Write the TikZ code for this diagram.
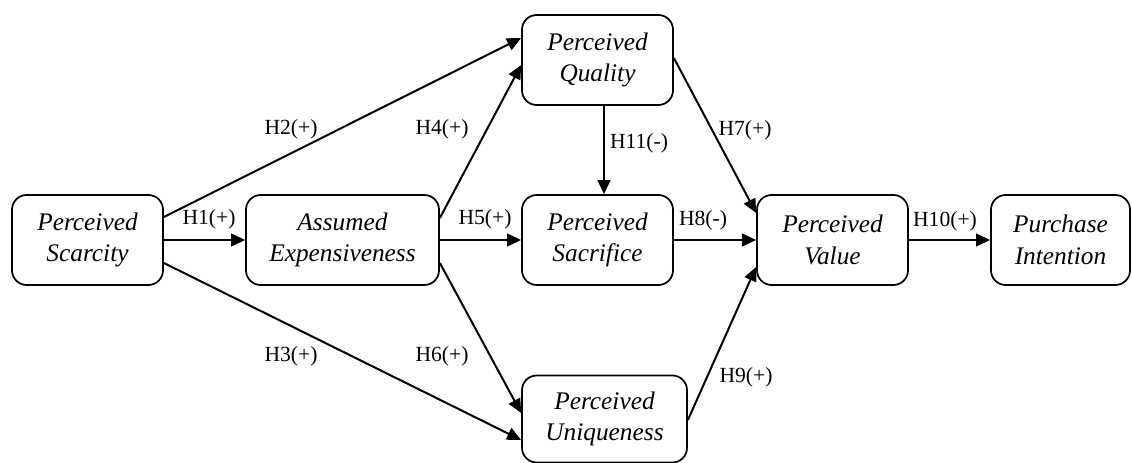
\documentclass[tikz,border=0pt]{standalone}
\usepackage{fontspec}
\setmainfont{Liberation Serif}
\usetikzlibrary{calc,arrows.meta}
\tikzset{
  box/.style={draw, line width=1.3pt, rounded corners=11pt, align=center,
    minimum height=67.5pt, inner sep=0pt,
    font=\fontsize{19}{23.5}\selectfont\itshape},
  conn/.style={line width=1.5pt, -{Triangle[length=10.5pt,width=9.5pt]}},
  lab/.style={font=\fontsize{16.2}{18}\selectfont, inner sep=0pt}
}
\begin{document}
\begin{tikzpicture}[x=0.75pt,y=-0.75pt]
\useasboundingbox (0,0) rectangle (1132,463);
\node[box, minimum width=113.25pt] (sc) at (87.5,240) {Perceived\\Scarcity};
\node[box, minimum width=144.75pt] (ae) at (342.5,240) {Assumed\\Expensiveness};
\node[box, minimum width=113.25pt] (qu) at (597.5,60) {Perceived\\Quality};
\node[box, minimum width=113.25pt] (sa) at (597.5,240) {Perceived\\Sacrifice};
\node[box, minimum width=113.25pt] (va) at (832.5,240) {Perceived\\Value};
\node[box, minimum width=104.25pt] (pi) at (1060.5,240) {Purchase\\Intention};
\node[box, minimum width=123.75pt, minimum height=65.25pt] (un) at (604.5,419) {Perceived\\Uniqueness};

\draw[conn] (sc.east) -- (ae.west);
\draw[conn] ($(sc.east)+(0,-23)$) -- ($(qu.west)+(0,-22)$);
\draw[conn] ($(sc.east)+(0,23)$) -- ($(un.west)+(0,21)$);
\draw[conn] ($(ae.east)+(0,-22)$) -- ($(qu.west)+(0,5)$);
\draw[conn] (ae.east) -- (sa.west);
\draw[conn] ($(ae.east)+(0,23)$) -- ($(un.west)+(0,-6)$);
\draw[conn] ($(qu.south)+(6.5,0)$) -- ($(sa.north)+(6.5,0)$);
\draw[conn] ($(qu.east)+(0,-2)$) -- ($(va.west)+(0,-27)$);
\draw[conn] (sa.east) -- (va.west);
\draw[conn] ($(un.east)+(0,1)$) -- ($(va.west)+(0,27)$);
\draw[conn] (va.east) -- (pi.west);

\node[lab] (l1) at (209,219) {H1(+)};
\node[lab] (l2) at (291,129) {H2(+)};
\node[lab] (l3) at (291,356) {H3(+)};
\node[lab] (l4) at (442,129) {H4(+)};
\node[lab] (l5) at (485,219) {H5(+)};
\node[lab] (l6) at (442,356) {H6(+)};
\node[lab] (l7) at (745,130) {H7(+)};
\node[lab] (l8) at (703,220) {H8(-)};
\node[lab] (l9) at (746,377) {H9(+)};
\node[lab] (l10) at (945,221) {H10(+)};
\node[lab] (l11) at (639,143) {H11(-)};
\end{tikzpicture}
\end{document}
